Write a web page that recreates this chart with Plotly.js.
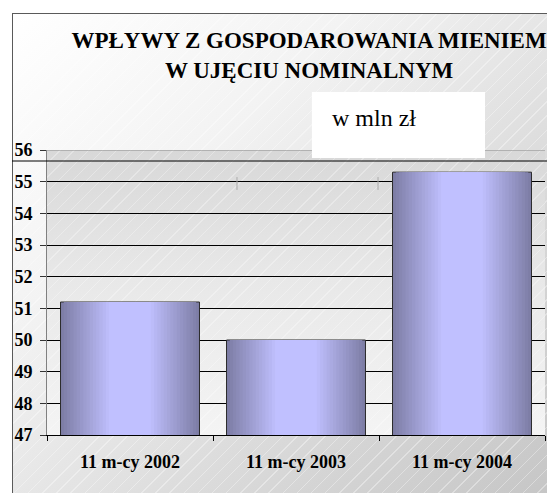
<!DOCTYPE html>
<html>
<head>
<meta charset="utf-8">
<script src="https://cdn.plot.ly/plotly-3.0.1.min.js"></script>
<style>
  body { margin: 0; background: #fff; }
  #wrap { position: relative; width: 547px; height: 493px; overflow: hidden; background: #fff; }
  #frame { position: absolute; left: 12px; top: 13px; width: 560px; height: 520px;
    border: 1px solid #5a5a5a;
    background:
      repeating-linear-gradient(135deg, rgba(255,255,255,0) 0px, rgba(255,255,255,0) 9px, rgba(255,255,255,0.35) 9px, rgba(255,255,255,0.35) 10px),
      linear-gradient(to bottom right, #ffffff 0%, #f3f3f3 30%, #d9d9d9 65%, #c2c2c2 100%); }
  #plotbg { position: absolute; left: 47px; top: 150px; width: 498px; height: 285px;
    background:
      repeating-linear-gradient(135deg, rgba(255,255,255,0) 0px, rgba(255,255,255,0) 9px, rgba(255,255,255,0.3) 9px, rgba(255,255,255,0.3) 10px),
      linear-gradient(to bottom, #d8d8d8 0%, #e8e8e8 45%, #f4f4f4 100%); }
  #chart { position: absolute; left: 0; top: 0; width: 547px; height: 493px; }
</style>
</head>
<body>
<div id="wrap">
  <div id="frame"></div>
  <div id="plotbg"></div>
  <div id="chart"></div>
</div>
<script>
const categories = ['11 m-cy 2002', '11 m-cy 2003', '11 m-cy 2004'];
const values = [51.2, 50.0, 55.3];
const yTicks = [47, 48, 49, 50, 51, 52, 53, 54, 55, 56];
const titleText = 'WPŁYWY Z GOSPODAROWANIA MIENIEM<br>W UJĘCIU NOMINALNYM';
const unitText = 'w mln zł';

const serif = 'Liberation Serif';
const edge = [126, 126, 166];
const center = [192, 192, 255];
const N = 16;
const outerWidth = 0.837;

const traces = [];
for (let k = 0; k < N; k++) {
  const t = k / (N - 1);
  const c = edge.map((e, i) => Math.round(e + (center[i] - e) * t));
  traces.push({
    type: 'bar',
    x: categories,
    y: values,
    width: outerWidth * (1 - 0.7 * t),
    marker: {
      color: 'rgb(' + c.join(',') + ')',
      line: k === 0 ? { color: '#2a2a2a', width: 1 } : { width: 0 }
    },
    hoverinfo: 'skip',
    showlegend: false
  });
}

const layout = {
  width: 547,
  height: 493,
  margin: { l: 47, r: 2, t: 150, b: 58, pad: 0 },
  paper_bgcolor: 'rgba(0,0,0,0)',
  plot_bgcolor: 'rgba(0,0,0,0)',
  barmode: 'overlay',
  showlegend: false,
  font: { family: serif, color: '#000' },
  title: {
    text: titleText,
    font: { family: serif, size: 23, weight: 'bold', color: '#000' },
    x: 0.565, xref: 'container', xanchor: 'center',
    y: 0.902, yref: 'container', yanchor: 'top'
  },
  xaxis: {
    type: 'category',
    range: [-0.5, 2.5],
    showline: true, linecolor: '#000', linewidth: 1,
    ticks: 'outside', ticklen: 5, tickcolor: '#000', tickson: 'boundaries',
    showgrid: false, zeroline: false,
    tickfont: { family: serif, size: 18, weight: 'bold', color: '#000' },
    ticklabelstandoff: 10,
    fixedrange: true
  },
  yaxis: {
    range: [47, 56],
    tickvals: yTicks,
    ticktext: yTicks.map(String),
    showgrid: true, gridcolor: '#000', gridwidth: 1,
    showline: true, linecolor: '#808080', linewidth: 1,
    ticks: 'outside', ticklen: 6, tickcolor: '#333',
    zeroline: false,
    tickfont: { family: serif, size: 18, weight: 'bold', color: '#000' },
    ticklabelstandoff: 4,
    fixedrange: true
  },
  shapes: [
    { type: 'line', xref: 'paper', yref: 'y', x0: 0, x1: 1, y0: 56, y1: 56,
      line: { color: '#8a8a8a', width: 1 }, layer: 'above' },
    { type: 'rect', xref: 'paper', yref: 'paper', x0: 0.532, x1: 0.8795, y0: 0.972, y1: 1.2035,
      fillcolor: '#ffffff', line: { width: 0 }, layer: 'above' },
    { type: 'line', xref: 'paper', yref: 'paper', x0: -0.0703, x1: 1.01, y0: 0.9614, y1: 0.9614,
      line: { color: '#000', width: 1 }, layer: 'above' },
    { type: 'line', xref: 'paper', yref: 'paper', x0: 0.3815, x1: 0.3815, y0: 0.86, y1: 0.905,
      line: { color: '#aaaaaa', width: 1 }, layer: 'above' },
    { type: 'line', xref: 'paper', yref: 'paper', x0: 0.6647, x1: 0.6647, y0: 0.86, y1: 0.905,
      line: { color: '#aaaaaa', width: 1 }, layer: 'above' }
  ],
  annotations: [
    { text: unitText, xref: 'paper', yref: 'paper', x: 0.568, y: 1.112,
      xanchor: 'left', yanchor: 'middle', showarrow: false,
      font: { family: serif, size: 24, color: '#000' } }
  ]
};

Plotly.newPlot('chart', traces, layout, { displayModeBar: false, staticPlot: true });
</script>
</body>
</html>
